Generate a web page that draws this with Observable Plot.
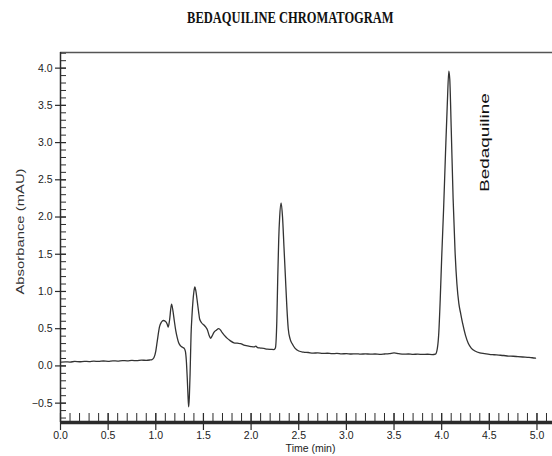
<!DOCTYPE html>
<html><head><meta charset="utf-8">
<script src="https://cdn.jsdelivr.net/npm/d3@7"></script>
<script src="https://cdn.jsdelivr.net/npm/@observablehq/plot@0.6"></script>
<style>
body{margin:0;background:#fff;}
#title{width:552px;height:40px;box-sizing:border-box;padding-top:10px;line-height:16px;text-align:center;font-family:"Liberation Serif",serif;font-weight:bold;font-size:16px;color:#111;white-space:nowrap;}
#title span{display:inline-block;transform:translateX(14px) scaleX(0.78);}
</style></head><body>
<div id="title"><span>BEDAQUILINE CHROMATOGRAM</span></div>
<div id="chart"></div>
<script>
// ---- data ----
const timeMin = [0.01,0.05,0.10,0.15,0.20,0.25,0.30,0.35,0.40,0.45,0.50,0.55,0.60,0.65,0.70,0.75,0.80,0.85,0.90,0.94,0.96,
 0.98,1.00,1.015,1.04,1.06,1.08,1.10,1.12,1.13,1.145,1.165,1.18,1.195,1.21,1.225,1.24,1.26,1.28,1.295,1.31,1.32,1.33,1.338,1.345,1.352,1.36,1.37,1.38,1.39,1.40,1.41,1.42,1.435,1.45,1.46,1.48,1.505,1.525,1.54,1.56,1.575,1.59,1.61,1.635,1.66,1.68,1.695,1.72,1.75,1.78,1.82,1.855,1.89,1.925,1.96,2.00,2.03,2.05,2.07,2.10,2.135,2.17,2.21,2.24,
 2.255,2.27,2.28,2.29,2.30,2.315,2.33,2.345,2.36,2.375,2.39,2.41,2.43,2.46,2.50,2.55,2.60,2.65,2.70,2.75,2.80,2.85,2.90,2.95,3.00,3.05,3.10,3.15,3.20,3.25,3.30,3.35,3.40,3.45,3.50,3.55,3.60,3.65,3.70,3.75,3.80,3.85,3.90,3.935,
 3.955,3.97,3.985,4.00,4.02,4.04,4.06,4.075,4.085,4.10,4.12,4.14,4.16,4.18,4.20,4.22,4.25,4.28,4.31,4.35,4.40,4.45,4.50,4.55,4.60,4.65,4.70,4.75,4.80,4.85,4.90,4.95,4.985];
const absorbance = [0.05,0.055,0.052,0.06,0.056,0.062,0.058,0.064,0.06,0.066,0.062,0.068,0.065,0.072,0.068,0.075,0.07,0.078,0.074,0.08,0.085,
 0.11,0.2,0.33,0.53,0.59,0.61,0.6,0.56,0.52,0.62,0.83,0.74,0.6,0.47,0.38,0.31,0.27,0.25,0.24,0.2,0.08,-0.16,-0.4,-0.55,-0.42,-0.1,0.42,0.68,0.87,1.0,1.06,1.01,0.87,0.72,0.63,0.58,0.55,0.52,0.49,0.41,0.37,0.4,0.45,0.48,0.5,0.48,0.45,0.41,0.37,0.34,0.31,0.305,0.3,0.28,0.27,0.26,0.255,0.265,0.245,0.24,0.235,0.225,0.222,0.22,
 0.24,0.6,1.2,1.7,2.0,2.19,2.0,1.6,1.2,0.8,0.5,0.36,0.3,0.24,0.2,0.185,0.18,0.172,0.175,0.168,0.17,0.165,0.168,0.162,0.165,0.16,0.163,0.158,0.162,0.158,0.16,0.156,0.16,0.165,0.175,0.165,0.158,0.16,0.155,0.158,0.154,0.157,0.153,0.16,
 0.24,0.45,0.9,1.45,2.1,2.85,3.55,3.96,3.85,3.2,2.25,1.55,1.1,0.84,0.7,0.57,0.41,0.3,0.24,0.2,0.175,0.165,0.155,0.15,0.145,0.14,0.132,0.13,0.125,0.12,0.115,0.11,0.105];
const xTickValues = [0,0.5,1.0,1.5,2.0,2.5,3.0,3.5,4.0,4.5,5.0];
const yTickValues = [-0.5,0,0.5,1.0,1.5,2.0,2.5,3.0,3.5,4.0];
const xDomain = [0, 5.163];
const yDomain = [-0.76, 4.21];
const peakLabel = "Bedaquiline";
const peakLabelTime = 4.45;
const peakLabelAbs = 3.0;
const xTitle = "Time (min)";
const yTitle = "Absorbance (mAU)";

// ---- layout ----
const W = 552, H = 416, mL = 60, mR = 0, mT = 12, mB = 34;
const innerW = W - mL - mR, innerH = H - mT - mB;
const data = timeMin.map((t, i) => ({t, v: absorbance[i]}));
const xMinor = d3.range(1, 52).map(i => i / 10);
const yMinor = d3.range(-7, 43).map(i => i / 10);
const ink = "#2b2b2b";

const chart = Plot.plot({
  width: W, height: H,
  marginLeft: mL, marginRight: mR, marginTop: mT, marginBottom: mB,
  style: {fontFamily: "'Liberation Sans', Arial, sans-serif", background: "#fff", overflow: "visible"},
  x: {domain: xDomain, label: null},
  y: {domain: yDomain, label: null},
  marks: [
    Plot.tickX(xMinor, {x: d => d, stroke: ink, strokeWidth: 1, insetTop: innerH - 9}),
    Plot.tickX(xTickValues, {x: d => d, stroke: ink, strokeWidth: 1.2, insetTop: innerH - 9, insetBottom: -8}),
    Plot.tickY(yMinor, {y: d => d, stroke: ink, strokeWidth: 1, insetRight: innerW - 6}),
    Plot.tickY(yTickValues, {y: d => d, stroke: ink, strokeWidth: 1.2, insetLeft: -5, insetRight: innerW - 6}),
    Plot.ruleY([yDomain[1]], {stroke: "#555", strokeWidth: 1.5}),
    Plot.ruleX([xDomain[0]], {stroke: ink, strokeWidth: 1.5}),
    Plot.ruleY([yDomain[0]], {stroke: ink, strokeWidth: 3.5}),
    Plot.line(data, {x: "t", y: "v", stroke: "#333", strokeWidth: 1.3, curve: "monotone-x"}),
    Plot.axisX(xTickValues, {tickSize: 0, tickPadding: 9, tickFormat: d3.format(".1f"), fontSize: 10.5, fill: "#222", label: null}),
    Plot.axisY(yTickValues, {tickSize: 0, tickPadding: 8, tickFormat: d3.format(".1f"), fontSize: 10.5, fill: "#222", label: null}),
    Plot.text([xTitle], {frameAnchor: "bottom", dx: 4, dy: 29, fontSize: 10.5, fill: "#222"}),
    Plot.text([yTitle], {frameAnchor: "left", textAnchor: "middle", rotate: -90, dx: -40, dy: -6, fontSize: 11, fill: "#333"}),
    Plot.text([peakLabel], {x: () => peakLabelTime, y: () => peakLabelAbs, textAnchor: "middle", rotate: -90, fontSize: 13, fill: "#111"})
  ]
});
d3.select(chart).selectAll("text").each(function() {
  const s = this.textContent;
  const tr = this.getAttribute("transform") || "";
  if (s === peakLabel) this.setAttribute("transform", tr + " scale(1.45,1)");
  if (s === yTitle) this.setAttribute("transform", tr + " scale(1.35,1)");
});
document.getElementById("chart").append(chart);
</script>
</body></html>
